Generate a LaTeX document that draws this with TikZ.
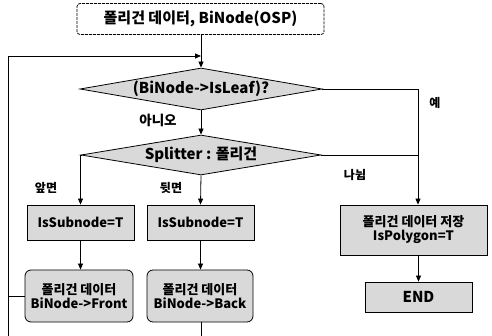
\documentclass[tikz,border=0pt]{standalone}
\usepackage{fontspec}
\setmainfont{Noto Sans CJK KR}
\usetikzlibrary{shapes.geometric,arrows.meta,calc}
\begin{document}
\begin{tikzpicture}[x=1pt,y=-1pt,
  font=\fontsize{13}{14}\selectfont\bfseries,
  line width=0.8pt,
  arr/.style={-{Triangle[length=6pt,width=5pt]}},
  boxg/.style={draw,fill=gray!30,inner sep=0pt,align=center},
  dia/.style={draw,fill=gray!30,diamond,aspect=6,inner sep=0pt,font=\fontsize{15}{16}\selectfont\bfseries},
  lab/.style={inner sep=0pt,font=\fontsize{12}{13}\selectfont\bfseries}]
\useasboundingbox (0,0) rectangle (492,336);
\node[draw,rounded corners=3pt,dash pattern=on 3pt off 1pt,minimum width=247pt,minimum height=31pt,inner sep=0pt,font=\fontsize{15}{16}\selectfont\bfseries] (top) at (200.5,19) {폴리건 데이터, BiNode(OSP)};
\node[dia,minimum width=242pt,minimum height=42pt] (d1) at (201,89) {(BiNode->IsLeaf)?};
\node[dia,minimum width=240pt,minimum height=40pt] (d2) at (201,155) {Splitter : 폴리건};
\node[boxg,minimum width=107pt,minimum height=35pt] (s1) at (80.5,222.5) {IsSubnode=T};
\node[boxg,minimum width=107pt,minimum height=35pt] (s2) at (200.5,222.5) {IsSubnode=T};
\node[boxg,minimum width=147pt,minimum height=50pt] (st) at (413.5,230) {폴리건 데이터 저장\\IsPolygon=T};
\node[boxg,minimum width=107pt,minimum height=30pt,font=\fontsize{15}{16}\selectfont\bfseries] (en) at (418.5,297) {END};
\node[boxg,rounded corners=6pt,minimum width=108pt,minimum height=52pt] (fr) at (79,296) {폴리건 데이터\\BiNode->Front};
\node[boxg,rounded corners=6pt,minimum width=106pt,minimum height=52pt] (bk) at (200,296) {폴리건 데이터\\BiNode->Back};
\node[lab] (yes) at (435,103) {예};
\node[lab,font=\fontsize{13.5}{14}\selectfont\bfseries] (no) at (158,120) {아니오};
\node[lab] (fa) at (46,188) {앞면};
\node[lab] (ba) at (171,188) {뒷면};
\node[lab] (sp) at (355,175) {나뉨};
\coordinate (R) at (418,89);
\coordinate (LB) at (8,336);
\coordinate (LT) at (8,56);
\coordinate (J) at (201,56);
\coordinate (BB) at (201,336);
\draw[arr] (top.south -| d1.north) -- (d1.north);
\draw[arr] (d1.south) -- (d2.north);
\draw[arr] (d1.east) -- (R) -- (R |- st.north);
\draw (d2.east) -- (R |- d2.east);
\draw[arr] (d2.west) -| (s1.north);
\draw[arr] (d2.south) -- (s2.north);
\draw[arr] (s1.south) -- (s1.south |- fr.north);
\draw[arr] (s2.south) -- (s2.south |- bk.north);
\draw[arr] (st.south -| en.north) -- (en.north);
\draw (fr.west) -- (fr.west -| LB);
\draw (bk.south -| J) -- (BB);
\draw[arr] (LB) -- (LT) -- (J);
\end{tikzpicture}
\end{document}
